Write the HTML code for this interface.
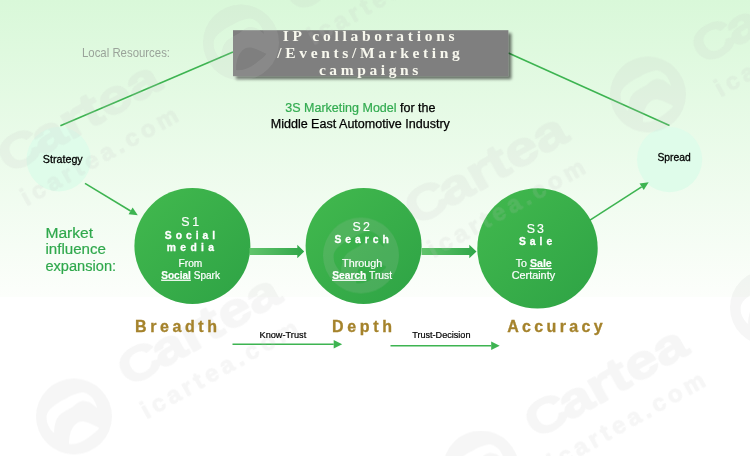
<!DOCTYPE html>
<html><head><meta charset="utf-8"><title>3S Marketing Model</title>
<style>
html,body{margin:0;padding:0;}
body{width:750px;height:456px;overflow:hidden;background:#fff;}
svg{display:block;}
text{font-family:"Liberation Sans","DejaVu Sans",sans-serif;}
.serif{font-family:"Liberation Serif","DejaVu Serif",serif;font-weight:bold;}
.b{font-weight:bold;}
.u{font-weight:bold;text-decoration:underline;}
</style></head><body>
<svg width="750" height="456" viewBox="0 0 750 456">
<defs>
<linearGradient id="bg" x1="0" y1="0" x2="0" y2="1">
<stop offset="0" stop-color="#d9f8d9"/>
<stop offset="1" stop-color="#fcfefb"/>
</linearGradient>
<linearGradient id="cg" x1="0.1" y1="0.1" x2="0.9" y2="0.9">
<stop offset="0" stop-color="#40b74d"/>
<stop offset="1" stop-color="#30a546"/>
</linearGradient>
<linearGradient id="ag" x1="0" y1="0" x2="1" y2="0">
<stop offset="0" stop-color="#62c46c"/>
<stop offset="1" stop-color="#2fa648"/>
</linearGradient>
<filter id="sh" x="-10%" y="-20%" width="120%" height="150%">
<feGaussianBlur in="SourceAlpha" stdDeviation="1.7"/>
<feOffset dx="3" dy="3"/>
<feComponentTransfer><feFuncA type="linear" slope="0.55"/></feComponentTransfer>
<feMerge><feMergeNode/><feMergeNode in="SourceGraphic"/></feMerge>
</filter>
</defs>
<rect width="750" height="297" fill="url(#bg)"/>

<line x1="60.4" y1="125.7" x2="233" y2="52" stroke="#3db451" stroke-width="1.6"/>
<line x1="508.4" y1="52.9" x2="669.5" y2="125.5" stroke="#3db451" stroke-width="1.6"/>
<circle cx="58.7" cy="159.3" r="32.2" fill="#dffcea"/>
<circle cx="669.6" cy="159.6" r="32.6" fill="#dffcea"/>
<line x1="85" y1="183.4" x2="130.61" y2="210.96" stroke="#3db451" stroke-width="1.6"/>
<polygon points="137.8,215.3 128.59,214.29 132.63,207.62" fill="#3db451"/>
<line x1="589.6" y1="220.3" x2="641.63" y2="186.84" stroke="#3db451" stroke-width="1.6"/>
<polygon points="648.7,182.3 643.74,190.12 639.53,183.56" fill="#3db451"/>
<line x1="232.5" y1="344.2" x2="333.70" y2="344.20" stroke="#3db451" stroke-width="1.4"/>
<polygon points="342.2,344.2 333.70,348.40 333.70,340.00" fill="#3db451"/>
<line x1="390.5" y1="345.8" x2="491.20" y2="345.80" stroke="#3db451" stroke-width="1.4"/>
<polygon points="499.7,345.8 491.20,350.00 491.20,341.60" fill="#3db451"/>
<circle cx="192.4" cy="245.9" r="58" fill="url(#cg)"/>
<circle cx="363.6" cy="246" r="58" fill="url(#cg)"/>
<circle cx="537.5" cy="248.4" r="60.2" fill="url(#cg)"/>
<polygon fill="url(#ag)" points="249.5,248.0 297.3,248.0 297.3,244.7 304.2,251.5 297.3,258.3 297.3,255.0 249.5,255.0"/>
<polygon fill="url(#ag)" points="421.5,248.0 469.3,248.0 469.3,244.7 476.5,251.5 469.3,258.3 469.3,255.0 421.5,255.0"/>
<rect x="233" y="30.2" width="275.4" height="46" fill="#7f7f7f" filter="url(#sh)"/>
<g fill="#c4c4c4" opacity="0.155">
<g transform="translate(361,255.5)">
<path fill-rule="evenodd" d="M-38,0 A38,38 0 1 0 38,0 A38,38 0 1 0 -38,0 Z M23.2,-8.4 C22,-14 18.8,-18.1 18.8,-18.1 C15,-23 10,-24.5 7.4,-23.9 C3,-23 -1,-21.5 -4.9,-19.8 C-9,-17.5 -13,-15.5 -17.2,-12.8 C-21,-10 -23.5,-8 -25.1,-5.8 C-27,-3 -27.6,-1 -27.4,1.2 C-27.3,5 -26.5,8 -25.1,10 C-23.5,13 -21.5,15.5 -19.8,16.5 C-20,13 -19.6,10 -18.8,7.4 C-18.3,4.8 -17.6,2.8 -16.4,1.2 C-14.8,-1.2 -13,-3 -10.6,-4.3 C-7.5,-6.2 -5,-7.6 -2.3,-9 C0,-10.5 2,-12.5 3.9,-13.7 C6,-15 8,-15.6 10,-15.4 C12.5,-15.2 15,-14.5 17,-13.3 C19.5,-11.8 21.5,-10 23.2,-8.4 Z M-4.9,27.5 C-5,24 -4.8,21 -4,17.9 C-3.3,15 -2.5,13 -1.1,10.9 C0.3,8.8 2,7 3.9,6 C6,5 8.5,4.9 10.9,5.3 C13.5,5.8 16,7 18.8,8.2 C21,9.2 23,10.2 25.3,11.2 C24,13.5 22,15.3 19.6,17 C16.5,19.5 14,21.5 10.9,23.5 C8,25.3 5,26.5 2.1,27.2 C-0.5,27.7 -3,27.8 -4.9,27.5 Z"/>
<g transform="rotate(-29.3)">
<text x="62" y="2" font-size="49" class="b" dx="0 -4" textLength="178" lengthAdjust="spacingAndGlyphs" stroke="#c4c4c4" stroke-width="1.6" stroke-linejoin="round">Cartea</text>
<text x="62" y="38" font-size="24" class="b" letter-spacing="4.25" stroke="#c4c4c4" stroke-width="0.8" stroke-linejoin="round">icartea.com</text>
</g></g>
<g transform="translate(648,94.5)">
<path fill-rule="evenodd" d="M-38,0 A38,38 0 1 0 38,0 A38,38 0 1 0 -38,0 Z M23.2,-8.4 C22,-14 18.8,-18.1 18.8,-18.1 C15,-23 10,-24.5 7.4,-23.9 C3,-23 -1,-21.5 -4.9,-19.8 C-9,-17.5 -13,-15.5 -17.2,-12.8 C-21,-10 -23.5,-8 -25.1,-5.8 C-27,-3 -27.6,-1 -27.4,1.2 C-27.3,5 -26.5,8 -25.1,10 C-23.5,13 -21.5,15.5 -19.8,16.5 C-20,13 -19.6,10 -18.8,7.4 C-18.3,4.8 -17.6,2.8 -16.4,1.2 C-14.8,-1.2 -13,-3 -10.6,-4.3 C-7.5,-6.2 -5,-7.6 -2.3,-9 C0,-10.5 2,-12.5 3.9,-13.7 C6,-15 8,-15.6 10,-15.4 C12.5,-15.2 15,-14.5 17,-13.3 C19.5,-11.8 21.5,-10 23.2,-8.4 Z M-4.9,27.5 C-5,24 -4.8,21 -4,17.9 C-3.3,15 -2.5,13 -1.1,10.9 C0.3,8.8 2,7 3.9,6 C6,5 8.5,4.9 10.9,5.3 C13.5,5.8 16,7 18.8,8.2 C21,9.2 23,10.2 25.3,11.2 C24,13.5 22,15.3 19.6,17 C16.5,19.5 14,21.5 10.9,23.5 C8,25.3 5,26.5 2.1,27.2 C-0.5,27.7 -3,27.8 -4.9,27.5 Z"/>
<g transform="rotate(-29.3)">
<text x="62" y="2" font-size="49" class="b" dx="0 -4" textLength="178" lengthAdjust="spacingAndGlyphs" stroke="#c4c4c4" stroke-width="1.6" stroke-linejoin="round">Cartea</text>
<text x="62" y="38" font-size="24" class="b" letter-spacing="4.25" stroke="#c4c4c4" stroke-width="0.8" stroke-linejoin="round">icartea.com</text>
</g></g>
<g transform="translate(74,416.5)">
<path fill-rule="evenodd" d="M-38,0 A38,38 0 1 0 38,0 A38,38 0 1 0 -38,0 Z M23.2,-8.4 C22,-14 18.8,-18.1 18.8,-18.1 C15,-23 10,-24.5 7.4,-23.9 C3,-23 -1,-21.5 -4.9,-19.8 C-9,-17.5 -13,-15.5 -17.2,-12.8 C-21,-10 -23.5,-8 -25.1,-5.8 C-27,-3 -27.6,-1 -27.4,1.2 C-27.3,5 -26.5,8 -25.1,10 C-23.5,13 -21.5,15.5 -19.8,16.5 C-20,13 -19.6,10 -18.8,7.4 C-18.3,4.8 -17.6,2.8 -16.4,1.2 C-14.8,-1.2 -13,-3 -10.6,-4.3 C-7.5,-6.2 -5,-7.6 -2.3,-9 C0,-10.5 2,-12.5 3.9,-13.7 C6,-15 8,-15.6 10,-15.4 C12.5,-15.2 15,-14.5 17,-13.3 C19.5,-11.8 21.5,-10 23.2,-8.4 Z M-4.9,27.5 C-5,24 -4.8,21 -4,17.9 C-3.3,15 -2.5,13 -1.1,10.9 C0.3,8.8 2,7 3.9,6 C6,5 8.5,4.9 10.9,5.3 C13.5,5.8 16,7 18.8,8.2 C21,9.2 23,10.2 25.3,11.2 C24,13.5 22,15.3 19.6,17 C16.5,19.5 14,21.5 10.9,23.5 C8,25.3 5,26.5 2.1,27.2 C-0.5,27.7 -3,27.8 -4.9,27.5 Z"/>
<g transform="rotate(-29.3)">
<text x="62" y="2" font-size="49" class="b" dx="0 -4" textLength="178" lengthAdjust="spacingAndGlyphs" stroke="#c4c4c4" stroke-width="1.6" stroke-linejoin="round">Cartea</text>
<text x="62" y="38" font-size="24" class="b" letter-spacing="4.25" stroke="#c4c4c4" stroke-width="0.8" stroke-linejoin="round">icartea.com</text>
</g></g>
<g transform="translate(481,468.5)">
<path fill-rule="evenodd" d="M-38,0 A38,38 0 1 0 38,0 A38,38 0 1 0 -38,0 Z M23.2,-8.4 C22,-14 18.8,-18.1 18.8,-18.1 C15,-23 10,-24.5 7.4,-23.9 C3,-23 -1,-21.5 -4.9,-19.8 C-9,-17.5 -13,-15.5 -17.2,-12.8 C-21,-10 -23.5,-8 -25.1,-5.8 C-27,-3 -27.6,-1 -27.4,1.2 C-27.3,5 -26.5,8 -25.1,10 C-23.5,13 -21.5,15.5 -19.8,16.5 C-20,13 -19.6,10 -18.8,7.4 C-18.3,4.8 -17.6,2.8 -16.4,1.2 C-14.8,-1.2 -13,-3 -10.6,-4.3 C-7.5,-6.2 -5,-7.6 -2.3,-9 C0,-10.5 2,-12.5 3.9,-13.7 C6,-15 8,-15.6 10,-15.4 C12.5,-15.2 15,-14.5 17,-13.3 C19.5,-11.8 21.5,-10 23.2,-8.4 Z M-4.9,27.5 C-5,24 -4.8,21 -4,17.9 C-3.3,15 -2.5,13 -1.1,10.9 C0.3,8.8 2,7 3.9,6 C6,5 8.5,4.9 10.9,5.3 C13.5,5.8 16,7 18.8,8.2 C21,9.2 23,10.2 25.3,11.2 C24,13.5 22,15.3 19.6,17 C16.5,19.5 14,21.5 10.9,23.5 C8,25.3 5,26.5 2.1,27.2 C-0.5,27.7 -3,27.8 -4.9,27.5 Z"/>
<g transform="rotate(-29.3)">
<text x="62" y="2" font-size="49" class="b" dx="0 -4" textLength="178" lengthAdjust="spacingAndGlyphs" stroke="#c4c4c4" stroke-width="1.6" stroke-linejoin="round">Cartea</text>
<text x="62" y="38" font-size="24" class="b" letter-spacing="4.25" stroke="#c4c4c4" stroke-width="0.8" stroke-linejoin="round">icartea.com</text>
</g></g>
<g transform="translate(768,307.5)">
<path fill-rule="evenodd" d="M-38,0 A38,38 0 1 0 38,0 A38,38 0 1 0 -38,0 Z M23.2,-8.4 C22,-14 18.8,-18.1 18.8,-18.1 C15,-23 10,-24.5 7.4,-23.9 C3,-23 -1,-21.5 -4.9,-19.8 C-9,-17.5 -13,-15.5 -17.2,-12.8 C-21,-10 -23.5,-8 -25.1,-5.8 C-27,-3 -27.6,-1 -27.4,1.2 C-27.3,5 -26.5,8 -25.1,10 C-23.5,13 -21.5,15.5 -19.8,16.5 C-20,13 -19.6,10 -18.8,7.4 C-18.3,4.8 -17.6,2.8 -16.4,1.2 C-14.8,-1.2 -13,-3 -10.6,-4.3 C-7.5,-6.2 -5,-7.6 -2.3,-9 C0,-10.5 2,-12.5 3.9,-13.7 C6,-15 8,-15.6 10,-15.4 C12.5,-15.2 15,-14.5 17,-13.3 C19.5,-11.8 21.5,-10 23.2,-8.4 Z M-4.9,27.5 C-5,24 -4.8,21 -4,17.9 C-3.3,15 -2.5,13 -1.1,10.9 C0.3,8.8 2,7 3.9,6 C6,5 8.5,4.9 10.9,5.3 C13.5,5.8 16,7 18.8,8.2 C21,9.2 23,10.2 25.3,11.2 C24,13.5 22,15.3 19.6,17 C16.5,19.5 14,21.5 10.9,23.5 C8,25.3 5,26.5 2.1,27.2 C-0.5,27.7 -3,27.8 -4.9,27.5 Z"/>
<g transform="rotate(-29.3)">
<text x="62" y="2" font-size="49" class="b" dx="0 -4" textLength="178" lengthAdjust="spacingAndGlyphs" stroke="#c4c4c4" stroke-width="1.6" stroke-linejoin="round">Cartea</text>
<text x="62" y="38" font-size="24" class="b" letter-spacing="4.25" stroke="#c4c4c4" stroke-width="0.8" stroke-linejoin="round">icartea.com</text>
</g></g>
<g transform="translate(-46,203.5)">
<path fill-rule="evenodd" d="M-38,0 A38,38 0 1 0 38,0 A38,38 0 1 0 -38,0 Z M23.2,-8.4 C22,-14 18.8,-18.1 18.8,-18.1 C15,-23 10,-24.5 7.4,-23.9 C3,-23 -1,-21.5 -4.9,-19.8 C-9,-17.5 -13,-15.5 -17.2,-12.8 C-21,-10 -23.5,-8 -25.1,-5.8 C-27,-3 -27.6,-1 -27.4,1.2 C-27.3,5 -26.5,8 -25.1,10 C-23.5,13 -21.5,15.5 -19.8,16.5 C-20,13 -19.6,10 -18.8,7.4 C-18.3,4.8 -17.6,2.8 -16.4,1.2 C-14.8,-1.2 -13,-3 -10.6,-4.3 C-7.5,-6.2 -5,-7.6 -2.3,-9 C0,-10.5 2,-12.5 3.9,-13.7 C6,-15 8,-15.6 10,-15.4 C12.5,-15.2 15,-14.5 17,-13.3 C19.5,-11.8 21.5,-10 23.2,-8.4 Z M-4.9,27.5 C-5,24 -4.8,21 -4,17.9 C-3.3,15 -2.5,13 -1.1,10.9 C0.3,8.8 2,7 3.9,6 C6,5 8.5,4.9 10.9,5.3 C13.5,5.8 16,7 18.8,8.2 C21,9.2 23,10.2 25.3,11.2 C24,13.5 22,15.3 19.6,17 C16.5,19.5 14,21.5 10.9,23.5 C8,25.3 5,26.5 2.1,27.2 C-0.5,27.7 -3,27.8 -4.9,27.5 Z"/>
<g transform="rotate(-29.3)">
<text x="62" y="2" font-size="49" class="b" dx="0 -4" textLength="178" lengthAdjust="spacingAndGlyphs" stroke="#c4c4c4" stroke-width="1.6" stroke-linejoin="round">Cartea</text>
<text x="62" y="38" font-size="24" class="b" letter-spacing="4.25" stroke="#c4c4c4" stroke-width="0.8" stroke-linejoin="round">icartea.com</text>
</g></g>
<g transform="translate(241,42.5)">
<path fill-rule="evenodd" d="M-38,0 A38,38 0 1 0 38,0 A38,38 0 1 0 -38,0 Z M23.2,-8.4 C22,-14 18.8,-18.1 18.8,-18.1 C15,-23 10,-24.5 7.4,-23.9 C3,-23 -1,-21.5 -4.9,-19.8 C-9,-17.5 -13,-15.5 -17.2,-12.8 C-21,-10 -23.5,-8 -25.1,-5.8 C-27,-3 -27.6,-1 -27.4,1.2 C-27.3,5 -26.5,8 -25.1,10 C-23.5,13 -21.5,15.5 -19.8,16.5 C-20,13 -19.6,10 -18.8,7.4 C-18.3,4.8 -17.6,2.8 -16.4,1.2 C-14.8,-1.2 -13,-3 -10.6,-4.3 C-7.5,-6.2 -5,-7.6 -2.3,-9 C0,-10.5 2,-12.5 3.9,-13.7 C6,-15 8,-15.6 10,-15.4 C12.5,-15.2 15,-14.5 17,-13.3 C19.5,-11.8 21.5,-10 23.2,-8.4 Z M-4.9,27.5 C-5,24 -4.8,21 -4,17.9 C-3.3,15 -2.5,13 -1.1,10.9 C0.3,8.8 2,7 3.9,6 C6,5 8.5,4.9 10.9,5.3 C13.5,5.8 16,7 18.8,8.2 C21,9.2 23,10.2 25.3,11.2 C24,13.5 22,15.3 19.6,17 C16.5,19.5 14,21.5 10.9,23.5 C8,25.3 5,26.5 2.1,27.2 C-0.5,27.7 -3,27.8 -4.9,27.5 Z"/>
<g transform="rotate(-29.3)">
<text x="62" y="2" font-size="49" class="b" dx="0 -4" textLength="178" lengthAdjust="spacingAndGlyphs" stroke="#c4c4c4" stroke-width="1.6" stroke-linejoin="round">Cartea</text>
<text x="62" y="38" font-size="24" class="b" letter-spacing="4.25" stroke="#c4c4c4" stroke-width="0.8" stroke-linejoin="round">icartea.com</text>
</g></g>
</g>
<text x="282.7" y="40.8" font-size="15.5" fill="#f8f8ee" letter-spacing="3.72" class="serif">IP collaborations</text>
<text x="277.3" y="57.8" font-size="15.5" fill="#f8f8ee" letter-spacing="3.66" class="serif">/Events/Marketing</text>
<text x="318.9" y="75.4" font-size="15.5" fill="#f8f8ee" letter-spacing="3.59" class="serif">campaigns</text>
<text x="82" y="56.6" font-size="12.2" fill="#9aa39a" textLength="88.0" lengthAdjust="spacingAndGlyphs">Local Resources:</text>
<text x="285.3" y="111.5" font-size="12.3" fill="#000" textLength="150.2" lengthAdjust="spacingAndGlyphs"><tspan fill="#32ab50" stroke="#32ab50" stroke-width="0.2">3S Marketing Model</tspan> <tspan stroke="#000" stroke-width="0.25">for the</tspan></text>
<text x="270.7" y="128.3" font-size="12.3" fill="#000" textLength="179.2" lengthAdjust="spacingAndGlyphs" stroke="#000" stroke-width="0.25">Middle East Automotive Industry</text>
<text x="42.8" y="162.5" font-size="11" fill="#000" textLength="39.9" lengthAdjust="spacingAndGlyphs" stroke="#000" stroke-width="0.3">Strategy</text>
<text x="657.4" y="161.4" font-size="11" fill="#000" textLength="33.3" lengthAdjust="spacingAndGlyphs" stroke="#000" stroke-width="0.3">Spread</text>
<text x="45.4" y="237.6" font-size="15.3" fill="#2fa84c" textLength="47.7" lengthAdjust="spacingAndGlyphs" stroke="#2fa84c" stroke-width="0.2">Market</text>
<text x="45.4" y="254.2" font-size="15.3" fill="#2fa84c" textLength="60.6" lengthAdjust="spacingAndGlyphs" stroke="#2fa84c" stroke-width="0.2">influence</text>
<text x="45.4" y="271.1" font-size="15.3" fill="#2fa84c" textLength="70.7" lengthAdjust="spacingAndGlyphs" stroke="#2fa84c" stroke-width="0.2">expansion:</text>
<text x="181.2" y="226" font-size="12.4" fill="#fff" letter-spacing="2.9" stroke="#fff" stroke-width="0.15">S1</text>
<text x="164.8" y="238.8" font-size="10.3" fill="#fff" letter-spacing="3.99" class="b" stroke="#fff" stroke-width="0.3">Social</text>
<text x="166.8" y="250.6" font-size="10.3" fill="#fff" letter-spacing="4.38" class="b" stroke="#fff" stroke-width="0.3">media</text>
<text x="178.6" y="267" font-size="10.6" fill="#fff" textLength="23.7" lengthAdjust="spacingAndGlyphs" stroke="#fff" stroke-width="0.2">From</text>
<text x="161.2" y="278.8" font-size="10.6" fill="#fff" textLength="58.8" lengthAdjust="spacingAndGlyphs" stroke="#fff" stroke-width="0.2"><tspan class="u">Social</tspan> Spark</text>
<text x="352.4" y="230.5" font-size="12.4" fill="#fff" letter-spacing="2.4" stroke="#fff" stroke-width="0.15">S2</text>
<text x="334.4" y="242.8" font-size="10.3" fill="#fff" letter-spacing="3.99" class="b" stroke="#fff" stroke-width="0.3">Search</text>
<text x="342.1" y="267" font-size="10.6" fill="#fff" textLength="40.1" lengthAdjust="spacingAndGlyphs" stroke="#fff" stroke-width="0.2">Through</text>
<text x="332.2" y="278.8" font-size="10.6" fill="#fff" textLength="59.8" lengthAdjust="spacingAndGlyphs" stroke="#fff" stroke-width="0.2"><tspan class="u">Search</tspan> Trust</text>
<text x="526.7" y="232.8" font-size="12.4" fill="#fff" letter-spacing="2.1" stroke="#fff" stroke-width="0.15">S3</text>
<text x="519" y="245.3" font-size="10.3" fill="#fff" letter-spacing="4.0" class="b" stroke="#fff" stroke-width="0.3">Sale</text>
<text x="515.7" y="267" font-size="10.6" fill="#fff" textLength="36.1" lengthAdjust="spacingAndGlyphs" stroke="#fff" stroke-width="0.2">To <tspan class="u">Sale</tspan></text>
<text x="511.7" y="278.8" font-size="10.6" fill="#fff" textLength="43.4" lengthAdjust="spacingAndGlyphs" stroke="#fff" stroke-width="0.2">Certainty</text>
<text x="135" y="331.9" font-size="16" fill="#a5832c" letter-spacing="3.6" class="b" stroke="#a5832c" stroke-width="0.3">Breadth</text>
<text x="332" y="331.9" font-size="16" fill="#a5832c" letter-spacing="3.7" class="b" stroke="#a5832c" stroke-width="0.3">Depth</text>
<text x="507.2" y="331.9" font-size="16" fill="#a5832c" letter-spacing="3.35" class="b" stroke="#a5832c" stroke-width="0.3">Accuracy</text>
<text x="259.5" y="338" font-size="9" fill="#000" textLength="46.7" lengthAdjust="spacingAndGlyphs" stroke="#000" stroke-width="0.2">Know-Trust</text>
<text x="412.2" y="337.7" font-size="9" fill="#000" textLength="58.3" lengthAdjust="spacingAndGlyphs" stroke="#000" stroke-width="0.2">Trust-Decision</text>
</svg>
</body></html>
